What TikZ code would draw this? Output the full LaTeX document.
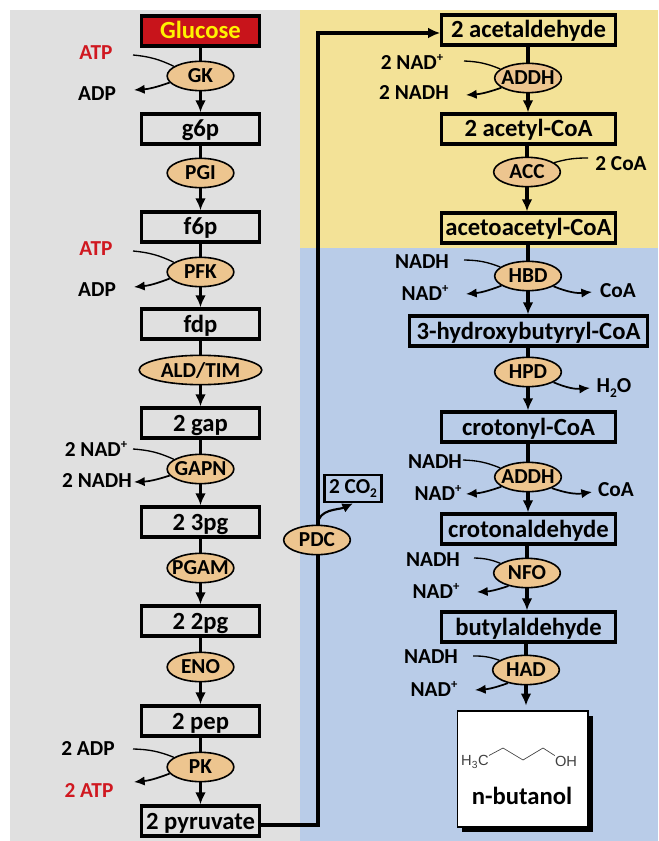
\documentclass[tikz,border=0pt]{standalone}
\usepackage{fontspec}
\setmainfont{Carlito}[Ligatures=TeX]
\newfontfamily\chemfont{Liberation Sans}
\usetikzlibrary{arrows.meta,shapes.geometric}
\definecolor{panelgray}{HTML}{E0E0E0}
\definecolor{panelyellow}{HTML}{F3E297}
\definecolor{panelblue}{HTML}{B9CCE8}
\definecolor{enzfill}{HTML}{EDC58F}
\definecolor{glured}{HTML}{C8141B}
\definecolor{cofred}{HTML}{D01820}
\newcommand{\plusup}{\raisebox{0.42em}{\fontsize{9.5}{10}\selectfont +}}
\newcommand{\subtwo}{\raisebox{-0.2em}{\fontsize{10}{10}\selectfont 2}}
\tikzset{
  metab/.style={draw, line width=2.4pt, fill=#1, minimum height=22.5pt, inner sep=0pt,
    text height=12.5pt, text depth=0.5pt, font=\fontsize{18.5}{20}\bfseries},
  metab/.default=none,
  enz/.style={ellipse, draw, line width=1.2pt, fill=enzfill, minimum width=50pt, minimum height=22pt,
    inner xsep=-12pt, inner ysep=-2pt, font=\fontsize{16}{18}\bfseries},
  cof/.style={font=\fontsize{16}{18}\bfseries, inner sep=0pt},
  chain/.style={line width=2.4pt},
  cofin/.style={line width=1pt},
  cofout/.style={line width=1.3pt, -{Latex[length=8pt,width=7pt]}},
}
\begin{document}
\begin{tikzpicture}[x=0.75pt, y=-0.75pt, >={Latex[length=9pt,width=8pt]}]
  \useasboundingbox (0,0) rectangle (658,841);
  % panels
  \fill[panelgray] (10,10) rectangle (300,841);
  \fill[panelyellow] (300,10) rectangle (658,248);
  \fill[panelblue] (300,248) rectangle (658,841);

  % glycolysis column
  \node[metab=glured, minimum width=88pt, text=yellow] (glucose) at (200.5,31) {Glucose};
  \foreach \nm/\txt/\y in {g6p/g6p/129, f6p/f6p/227, fdp/fdp/324, gap/2 gap/423, pg3/2 3pg/522, pg2/2 2pg/621, pep/2 pep/721, pyruvate/2 pyruvate/821}
    \node[metab, minimum width=88pt] (\nm) at (200.5,\y) {\txt};
  \foreach \nm/\txt/\y in {GK/GK/76, PGI/PGI/173, PFK/PFK/272, GAPN/GAPN/469, PGAM/PGAM/568, ENO/ENO/667, PK/PK/767}
    \node[enz] (\nm) at (200.5,\y) {\txt};
  \node[enz, minimum width=92pt] (ALD) at (200.5,370) {ALD/TIM};

  % butanol column
  \foreach \nm/\txt/\y in {acetald/2 acetaldehyde/30, acetyl/2 acetyl-CoA/129, acetoac/acetoacetyl-CoA/228, crotonyl/crotonyl-CoA/427, crotonald/crotonaldehyde/529}
    \node[metab, minimum width=130pt] (\nm) at (528.5,\y) {\txt};
  \node[metab, minimum width=130pt] (butyl) at (528.5,627) {butylaldehyde};
  \node[metab, minimum width=179pt] (hydroxy) at (528.5,331) {3-hydroxybutyryl-CoA};
  \foreach \nm/\txt/\x/\y in {ADDHa/ADDH/528/78, ACC/ACC/527/172, HBD/HBD/528/276, HPD/HPD/528/372, ADDHb/ADDH/528/477, NFO/NFO/527/573, HAD/HAD/526/670}
    \node[enz] (\nm) at (\x,\y) {\txt};
  \node[draw, line width=1.8pt, minimum width=43pt, minimum height=20.5pt, inner sep=0pt, font=\fontsize{16}{18}\bfseries] (co2) at (353,488.5) {2 CO\subtwo};

  % product
  \fill[black] (462,716) rectangle (593,832);
  \node[draw, line width=1pt, fill=white, minimum width=98pt, minimum height=87pt, inner sep=0pt] (product) at (522.5,769) {};
  \node[inner sep=0pt, font=\fontsize{18.5}{20}\bfseries] (butanol) at (522,796) {n-butanol};
  \node[inner sep=0pt, text=black!75, font=\chemfont\fontsize{11}{12}\selectfont] (ch3) at (475,762) {H\textsubscript{3}C};
  \node[inner sep=0pt, text=black!75, font=\chemfont\fontsize{11}{12}\selectfont] (oh) at (566,761) {OH};
  \draw[line width=0.5pt, black!75] (ch3.north east) -- (503,748) -- (523,760) -- (543,748) -- (oh.north west);

  % pathway
  \foreach \a/\b in {glucose/GK, g6p/PGI, f6p/PFK, fdp/ALD, gap/GAPN, pg3/PGAM, pg2/ENO, pep/PK, acetald/ADDHa, acetyl/ACC, acetoac/HBD, hydroxy/HPD, crotonyl/ADDHb, crotonald/NFO, butyl/HAD}
    \draw[chain] (\b |- \a.south) -- (\b.north);
  \foreach \a/\b in {GK/g6p, PGI/f6p, PFK/fdp, ALD/gap, GAPN/pg3, PGAM/pg2, ENO/pep, PK/pyruvate, ADDHa/acetyl, ACC/acetoac, HBD/hydroxy, HPD/crotonyl, ADDHb/crotonald, NFO/butyl}
    \draw[chain, ->] (\a.south) -- (\a |- \b.north);
  \draw[chain, ->, shorten >=3.5pt] (HAD.south) -- (HAD |- product.north);
  \coordinate (low) at (318,825);
  \coordinate (high) at (318,33);
  \draw[line width=3pt, ->] (pyruvate.east |- low) -- (low) -- (high) -- (acetald.west |- high);
  \node[enz] (PDC) at (317,540) {PDC};
  \draw[line width=1.6pt, -{Latex[length=8pt,width=7.5pt]}] (PDC.88) to[out=85, in=205] (co2.south);

  % cofactors
  \foreach \nm/\txt/\x/\y in {atpa/ATP/96/53, atpb/ATP/96/249, atpc/2 ATP/89/790}
    \node[cof, text=cofred] (\nm) at (\x,\y) {\txt};
  \foreach \nm/\txt/\x/\y in {adpa/ADP/97/94, adpb/ADP/97/290, nadpa/2 NAD\plusup/96/449, nadha/2 NADH/97/481, adpc/2 ADP/88/748,
      nadpb/2 NAD\plusup/412/62, nadhb/2 NADH/414/93, coab/2 CoA/621/164, nadhc/NADH/422/262, nadpc/NAD\plusup/425/293, coac/CoA/618/291,
      water/H\subtwo O/614/388, nadhd/NADH/435/462, nadpd/NAD\plusup/438/493, coad/CoA/616/490,
      nadhe/NADH/433/560, nadpe/NAD\plusup/436/591, nadhf/NADH/431/657, nadpf/NAD\plusup/434/689}
    \node[cof] (\nm) at (\x,\y) {\txt};

  % sides
  \foreach \enz/\ax/\ay/\angin/\bx/\by/\angout in {GK/133/55/160/134/90/192, PFK/133/251/160/134/287/192, GAPN/133/449/160/134/482/192, PK/133/749/160/134/782/192,
      ADDHa/464/61/162/466/95/200, HBD/464/260/162/466/294/200, ADDHb/463/460/162/466/494/200, NFO/474/558/160/477/592/215, HAD/473/656/160/475/690/216}
  {
    \coordinate (\enz in) at (\ax,\ay);
    \coordinate (\enz out) at (\bx,\by);
    \draw[cofin] (\enz in) to[bend left=10] (\enz.\angin);
    \draw[cofout] (\enz.\angout) to[bend left=8] (\enz out);
  }
  \coordinate (ACCin) at (588,158);
  \draw[cofin] (ACCin) to[bend right=8] (ACC.19);
  \foreach \enz/\bx/\by/\angout in {HBD/592/292/-22, HPD/590/388/-22, ADDHb/592/492/-25}
  {
    \coordinate (\enz side) at (\bx,\by);
    \draw[cofout] (\enz.\angout) to[bend right=14] (\enz side);
  }
\end{tikzpicture}
\end{document}
